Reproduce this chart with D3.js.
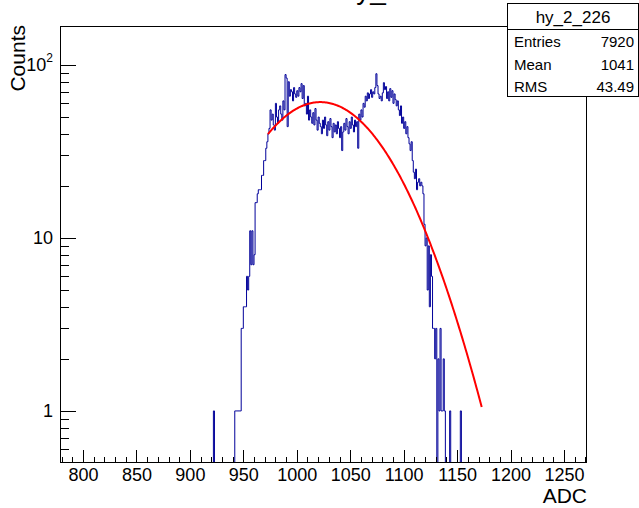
<!DOCTYPE html>
<html><head><meta charset="utf-8">
<script src="https://cdn.jsdelivr.net/npm/d3@7"></script>
<style>
body{margin:0;background:#fff}
svg{display:block}
text{font-family:"Liberation Sans",Arial,Helvetica,sans-serif}
</style>
</head><body>
<svg id="c" width="639" height="508"></svg>
<script>
// ---------------- data ----------------
const histName = "hy_2_226";
const titleText = "Calibration hy_2";
const xTitle = "ADC";
const yTitle = "Counts";
const binStart = 920;
const binWidth = 1;
const counts = [
  0,0,1, 0,0,0,0,0,0,0,0,0,0,0,0,0,0,0,0,0,0,0,
  1,1,1,1,1,1,3,3,4,4,4,6,5,6,11,7,11,7,8,16,16,18,19,19,19,23,23,28,28,33,36,
  40,43,55,48,52,45,42,60,50,46,55,58,52,48,62,55,88,84,44,80,66,72,70,62,74,68,65,
  71,66,74,70,78,64,76,58,60,52,66,48,55,50,46,53,45,56,48,42,50,46,44,40,48,43,50,45,39,47,42,49,44,38,46,41,45,40,47,43,38,44,32,
  41,46,42,49,44,40,47,43,50,45,41,48,44,47,33,52,48,55,50,60,57,66,62,69,64,68,72,65,70,68,74,89,76,68,64,66,62,69,79,72,75,64,70,62,73,65,71,60,68,63,58,62,55,51,58,46,50,43,47,40,44,38,35,32,36,28,
  24,22,25,19,21,22,20,21,20,18,12,9,10,5,9,4,8,6,3,3,2,3,0,2,1,3,1,1,2,1,0,0,0,0,1,
  0,0,0,0,0,0,0,0,0,1
];
const xTickLabels = [800, 850, 900, 950, 1000, 1050, 1100, 1150, 1200, 1250];
const yTickLabels = [1, 10, 100];
const yMinorTicks = [0.6,0.7,0.8,0.9, 2,3,4,5,6,7,8,9, 20,30,40,50,60,70,80,90];
const statsLabels = ["Entries", "Mean", "RMS"];
const statsValues = ["7920", "1041", "43.49"];
const fitConstant = 61;
const fitMean = 1022;
const fitSigma = 53;
const fitRange = [973, 1173];

// ---------------- layout ----------------
const L = 60, R = 587, T = 26, B = 463;
const svg = d3.select("#c");
const x = d3.scaleLinear().domain([778.5, 1271.5]).range([L, R]);
const y = d3.scaleLog().domain([0.5, 168]).range([B, T]);

svg.append("defs").append("clipPath").attr("id","fr")
  .append("rect").attr("x",L).attr("y",T).attr("width",R-L).attr("height",B-T);

// title (mostly outside the picture, as in the reference)
svg.append("text").attr("x",199).attr("y",-1).attr("font-size",28).attr("fill","#000").text(titleText);

// histogram
const pts = [[x(binStart), B + 2]];
counts.forEach((c, i) => {
  const lo = binStart + i * binWidth, hi = lo + binWidth;
  const yy = c > 0 ? y(c) : B + 2;
  pts.push([x(lo), yy], [x(hi), yy]);
});
pts.push([x(binStart + counts.length * binWidth), B + 2]);
svg.append("path").attr("clip-path","url(#fr)")
  .attr("d", d3.line()(pts)).attr("fill","none").attr("stroke","#000099").attr("stroke-width",1);

// fit curve
const fitPts = d3.range(fitRange[0], fitRange[1] + 0.001, 1).map(v =>
  [x(v), y(fitConstant * Math.exp(-0.5 * Math.pow((v - fitMean) / fitSigma, 2)))]);
svg.append("path").attr("clip-path","url(#fr)")
  .attr("d", d3.line()(fitPts)).attr("fill","none").attr("stroke","#ff0000").attr("stroke-width",2);

// frame
svg.append("rect").attr("x",L+0.5).attr("y",T+0.5).attr("width",R-L-1).attr("height",B-T-1)
  .attr("fill","none").attr("stroke","#000").attr("stroke-width",1);

// x axis
const gxMaj = svg.append("g").attr("transform",`translate(0,${B})`)
  .call(d3.axisBottom(x).tickValues(xTickLabels).tickSizeInner(-13).tickSizeOuter(0).tickPadding(5).tickFormat(d3.format("d")));
const gxMin = svg.append("g").attr("transform",`translate(0,${B})`)
  .call(d3.axisBottom(x).tickValues(d3.range(780, 1271, 10).filter(v => v % 50 !== 0)).tickSizeInner(-6.5).tickSizeOuter(0).tickFormat(""));
// y axis
const gyMaj = svg.append("g").attr("transform",`translate(${L},0)`)
  .call(d3.axisLeft(y).tickValues(yTickLabels).tickSizeInner(-16).tickSizeOuter(0).tickPadding(7)
    .tickFormat(d => d >= 100 ? "" : String(d)));
const gyMin = svg.append("g").attr("transform",`translate(${L},0)`)
  .call(d3.axisLeft(y).tickValues(yMinorTicks).tickSizeInner(-8.5).tickSizeOuter(0).tickFormat(""));

[gxMaj, gxMin, gyMaj, gyMin].forEach(g => {
  g.select(".domain").remove();
  g.attr("font-family", null).attr("font-size", null);
  g.selectAll("line").attr("stroke","#000").attr("shape-rendering","crispEdges");
  g.selectAll("text").attr("font-size",18).attr("fill","#000");
});
gyMaj.selectAll(".tick").filter(d => d >= 100).select("text").each(function(d){
  const t = d3.select(this);
  const e = Math.round(Math.log10(d));
  t.append("tspan").text("10");
  t.append("tspan").attr("font-size",12).attr("dy","-0.75em").text(String(e));
});

// axis titles
svg.append("text").attr("x",R).attr("y",503).attr("text-anchor","end").attr("font-size",21).text(xTitle);
svg.append("text").attr("transform",`translate(25,${T - 1}) rotate(-90)`).attr("text-anchor","end").attr("font-size",21).text(yTitle);

// stats box
const sb = svg.append("g");
sb.append("rect").attr("x",507.5).attr("y",3.5).attr("width",131).attr("height",93)
  .attr("fill","#fff").attr("stroke","#000").attr("stroke-width",1);
sb.append("line").attr("x1",507.5).attr("x2",638.5).attr("y1",29.5).attr("y2",29.5).attr("stroke","#000");
sb.append("text").attr("x",573).attr("y",23).attr("text-anchor","middle").attr("font-size",17).text(histName);
statsLabels.forEach((lab, i) => {
  const yy = 47 + i * 22.5;
  sb.append("text").attr("x",514).attr("y",yy).attr("font-size",15).text(lab);
  sb.append("text").attr("x",634).attr("y",yy).attr("text-anchor","end").attr("font-size",15).text(statsValues[i]);
});
</script>
</body></html>
